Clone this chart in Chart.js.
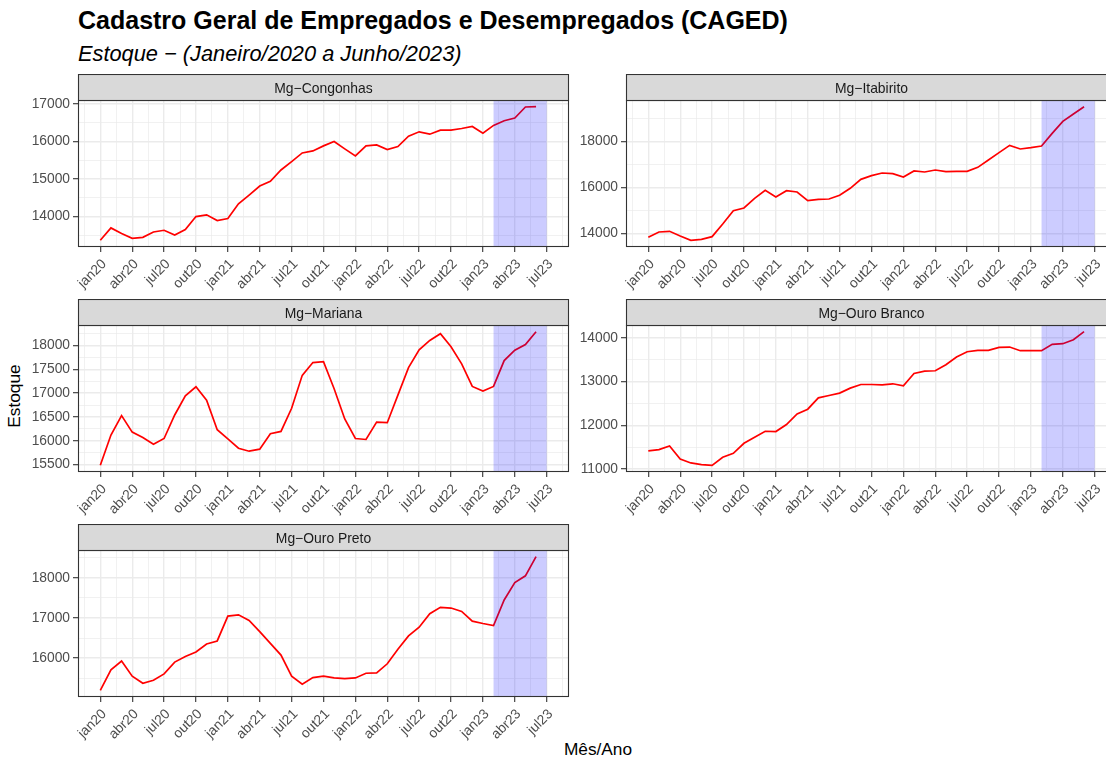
<!DOCTYPE html>
<html>
<head>
<meta charset="utf-8">
<script src="https://cdn.jsdelivr.net/npm/chart.js@4.4.0/dist/chart.umd.min.js"></script>
<style>
  body { margin: 0; width: 1106px; height: 759px; overflow: hidden; background: #fff; position: relative;
         font-family: "Liberation Sans", Arial, sans-serif; }
  canvas { position: absolute; }
  .txt { position: absolute; white-space: nowrap; line-height: 1; color: #000; }
</style>
</head>
<body>
<div class="txt" style="left:78px; top:8px; font-size:25px; font-weight:bold;">Cadastro Geral de Empregados e Desempregados (CAGED)</div>
<div class="txt" style="left:78px; top:43px; font-size:21.8px; font-style:italic;">Estoque − (Janeiro/2020 a Junho/2023)</div>
<div class="txt" style="left:598px; top:741px; font-size:17.3px; transform:translateX(-50%);">Mês/Ano</div>
<div class="txt" style="left:15px; top:396px; font-size:17.3px; transform:translate(-50%,-50%) rotate(-90deg);">Estoque</div>

<script>
// meses de jan/2020 a jun/2023 (posição no eixo x = índice)
const meses = ['jan20','fev20','mar20','abr20','mai20','jun20','jul20','ago20','set20','out20','nov20','dez20',
               'jan21','fev21','mar21','abr21','mai21','jun21','jul21','ago21','set21','out21','nov21','dez21',
               'jan22','fev22','mar22','abr22','mai22','jun22','jul22','ago22','set22','out22','nov22','dez22',
               'jan23','fev23','mar23','abr23','mai23','jun23'];

// rótulos do eixo x (a cada 3 meses, até jul23)
const rotulosX = ['jan20','abr20','jul20','out20','jan21','abr21','jul21','out21','jan22','abr22','jul22','out22','jan23','abr23','jul23'];
const posRotulosX = [0, 3, 6, 9, 12, 15, 18, 21, 24, 27, 30, 33, 36, 39, 42];

// período destacado (fev23 a jul23)
const destaque = [37, 42];

// estoque por município
const congonhas = [13366,13696,13545,13420,13446,13589,13634,13509,13652,14000,14045,13893,
                   13946,14339,14571,14813,14937,15241,15464,15696,15750,15884,16000,15804,
                   15616,15884,15911,15786,15866,16143,16259,16196,16304,16304,16348,16402,
                   16223,16429,16554,16625,16920,16929];
const itabirito = [13841,14072,14101,13899,13711,13755,13870,14419,14996,15112,15531,15877,
                   15588,15863,15805,15430,15487,15502,15661,15964,16354,16513,16628,16599,
                   16455,16715,16671,16758,16686,16700,16700,16874,17191,17509,17827,17668,
                   17726,17798,18347,18866,19184,19502];
const mariana = [15486,16120,16528,16183,16070,15930,16049,16542,16944,17134,16852,16232,
                 16042,15845,15782,15824,16148,16197,16683,17373,17641,17662,17092,16458,
                 16049,16028,16394,16380,16958,17535,17908,18106,18246,17972,17613,17141,
                 17042,17141,17683,17901,18021,18289];
const ouroBranco = [11414,11445,11529,11230,11139,11100,11085,11269,11360,11590,11728,11865,
                    11858,12019,12263,12370,12630,12684,12738,12852,12936,12936,12929,12952,
                    12906,13189,13243,13250,13388,13564,13686,13717,13717,13786,13793,13709,
                    13709,13709,13855,13870,13962,14145];
const ouroPreto = [15197,15707,15925,15548,15372,15448,15607,15900,16042,16151,16351,16427,
                   17046,17079,16937,16661,16368,16075,15548,15347,15515,15548,15506,15490,
                   15506,15623,15632,15858,16218,16552,16770,17105,17264,17247,17163,16921,
                   16862,16812,17448,17883,18050,18527];

// marcas do eixo y de cada painel
const ticksCongonhas = [14000, 15000, 16000, 17000];
const ticksItabirito = [14000, 16000, 18000];
const ticksMariana = [15500, 16000, 16500, 17000, 17500, 18000];
const ticksOuroBranco = [11000, 12000, 13000, 14000];
const ticksOuroPreto = [16000, 17000, 18000];

const paineis = [
  { nome: 'Mg−Congonhas',    serie: congonhas,  ticks: ticksCongonhas,  col: 0, lin: 0 },
  { nome: 'Mg−Itabirito',    serie: itabirito,  ticks: ticksItabirito,  col: 1, lin: 0 },
  { nome: 'Mg−Mariana',      serie: mariana,    ticks: ticksMariana,    col: 0, lin: 1 },
  { nome: 'Mg−Ouro Branco',  serie: ouroBranco, ticks: ticksOuroBranco, col: 1, lin: 1 },
  { nome: 'Mg−Ouro Preto',   serie: ouroPreto,  ticks: ticksOuroPreto,  col: 0, lin: 2 },
];

// geometria (px)
const EIXO_Y = 62, EIXO_X = 60, FAIXA = 26, PAD_D = 15;
const LARG = 491, ALT = 147;
const esquerdas = [78, 626];
const topos = [74, 299, 524];

const FONTE = "'Liberation Sans', Arial, sans-serif";
const GRADE = '#EBEBEB';

// limites com expansão de 5% (como o ggplot)
function expandir(min, max) {
  const d = (max - min) * 0.05;
  return [min - d, max + d];
}

// marcas principais + secundárias (meio do caminho), dentro dos limites
function comSecundarias(maiores, min, max) {
  const passo = maiores[1] - maiores[0];
  const todas = [];
  const inicio = maiores[0] - passo / 2;
  for (let v = inicio; v <= maiores[maiores.length - 1] + passo / 2 + 1e-9; v += passo / 2) {
    if (v >= min && v <= max) todas.push(v);
  }
  return todas;
}

const moldura = {
  id: 'moldura',
  afterDatasetsDraw(chart) {
    const { ctx, chartArea: a, scales: { x } } = chart;
    const x0 = x.getPixelForValue(destaque[0]);
    const x1 = x.getPixelForValue(destaque[1]);
    ctx.save();
    ctx.fillStyle = 'rgba(0, 0, 255, 0.2)';
    ctx.fillRect(x0, a.top, x1 - x0, a.bottom - a.top);
    ctx.restore();
  },
  afterDraw(chart, args, opts) {
    const { ctx, chartArea: a } = chart;
    ctx.save();
    ctx.lineWidth = 1.1;
    ctx.strokeStyle = '#333333';
    ctx.strokeRect(a.left + 0.5, a.top + 0.5, a.right - a.left - 1, a.bottom - a.top - 1);
    // faixa do título do painel
    ctx.fillStyle = '#D9D9D9';
    ctx.fillRect(a.left + 0.5, 0.5, a.right - a.left - 1, a.top);
    ctx.strokeRect(a.left + 0.5, 0.5, a.right - a.left - 1, a.top);
    ctx.fillStyle = '#1A1A1A';
    ctx.font = '13.9px ' + FONTE;
    ctx.textAlign = 'center';
    ctx.textBaseline = 'alphabetic';
    ctx.fillText(opts.titulo, (a.left + a.right) / 2, 19.3);
    ctx.restore();
  }
};

paineis.forEach(p => {
  const cv = document.createElement('canvas');
  const w = EIXO_Y + LARG + PAD_D, h = FAIXA + ALT + EIXO_X;
  cv.width = w; cv.height = h;
  cv.style.left = (esquerdas[p.col] - EIXO_Y) + 'px';
  cv.style.top = topos[p.lin] + 'px';
  document.body.appendChild(cv);

  const [ymin, ymax] = expandir(Math.min(...p.serie), Math.max(...p.serie));
  const [xmin, xmax] = expandir(0, destaque[1]);
  const ticksY = comSecundarias(p.ticks, ymin, ymax);
  const ticksX = comSecundarias(posRotulosX, xmin, xmax);
  const ehMaiorY = v => p.ticks.includes(v);
  const ehMaiorX = v => posRotulosX.includes(v);

  new Chart(cv, {
    type: 'line',
    data: {
      datasets: [{
        data: p.serie.map((v, i) => ({ x: i, y: v })),
        borderColor: '#FF0000',
        borderWidth: 1.7,
        pointRadius: 0,
        tension: 0,
        fill: false
      }]
    },
    options: {
      responsive: false,
      animation: false,
      devicePixelRatio: 1,
      layout: { padding: { top: FAIXA, right: PAD_D, left: 0, bottom: 0 } },
      plugins: { legend: { display: false }, tooltip: { enabled: false }, moldura: { titulo: p.nome } },
      scales: {
        x: {
          type: 'linear',
          min: xmin, max: xmax,
          afterBuildTicks: s => { s.ticks = ticksX.map(v => ({ value: v })); },
          afterFit: s => { s.height = EIXO_X; },
          border: { display: false },
          grid: {
            color: GRADE,
            lineWidth: c => ehMaiorX(c.tick.value) ? 1.4 : 0.7,
            tickColor: c => ehMaiorX(c.tick.value) ? '#333333' : 'rgba(0,0,0,0)',
            tickWidth: 1.1,
            tickLength: 5
          },
          ticks: {
            autoSkip: false,
            maxRotation: 45, minRotation: 45,
            padding: 4,
            labelOffset: 4,
            color: '#4D4D4D',
            font: { family: FONTE, size: 13.8 },
            callback: v => ehMaiorX(v) ? rotulosX[posRotulosX.indexOf(v)] : ''
          }
        },
        y: {
          min: ymin, max: ymax,
          afterBuildTicks: s => { s.ticks = ticksY.map(v => ({ value: v })); },
          afterFit: s => { s.width = EIXO_Y; },
          border: { display: false },
          grid: {
            color: GRADE,
            lineWidth: c => ehMaiorY(c.tick.value) ? 1.4 : 0.7,
            tickColor: c => ehMaiorY(c.tick.value) ? '#333333' : 'rgba(0,0,0,0)',
            tickWidth: 1.1,
            tickLength: 5
          },
          ticks: {
            autoSkip: false,
            padding: 3,
            color: '#4D4D4D',
            font: { family: FONTE, size: 13.8 },
            callback: v => ehMaiorY(v) ? String(v) : ''
          }
        }
      }
    },
    plugins: [moldura]
  });
});
</script>
</body>
</html>
